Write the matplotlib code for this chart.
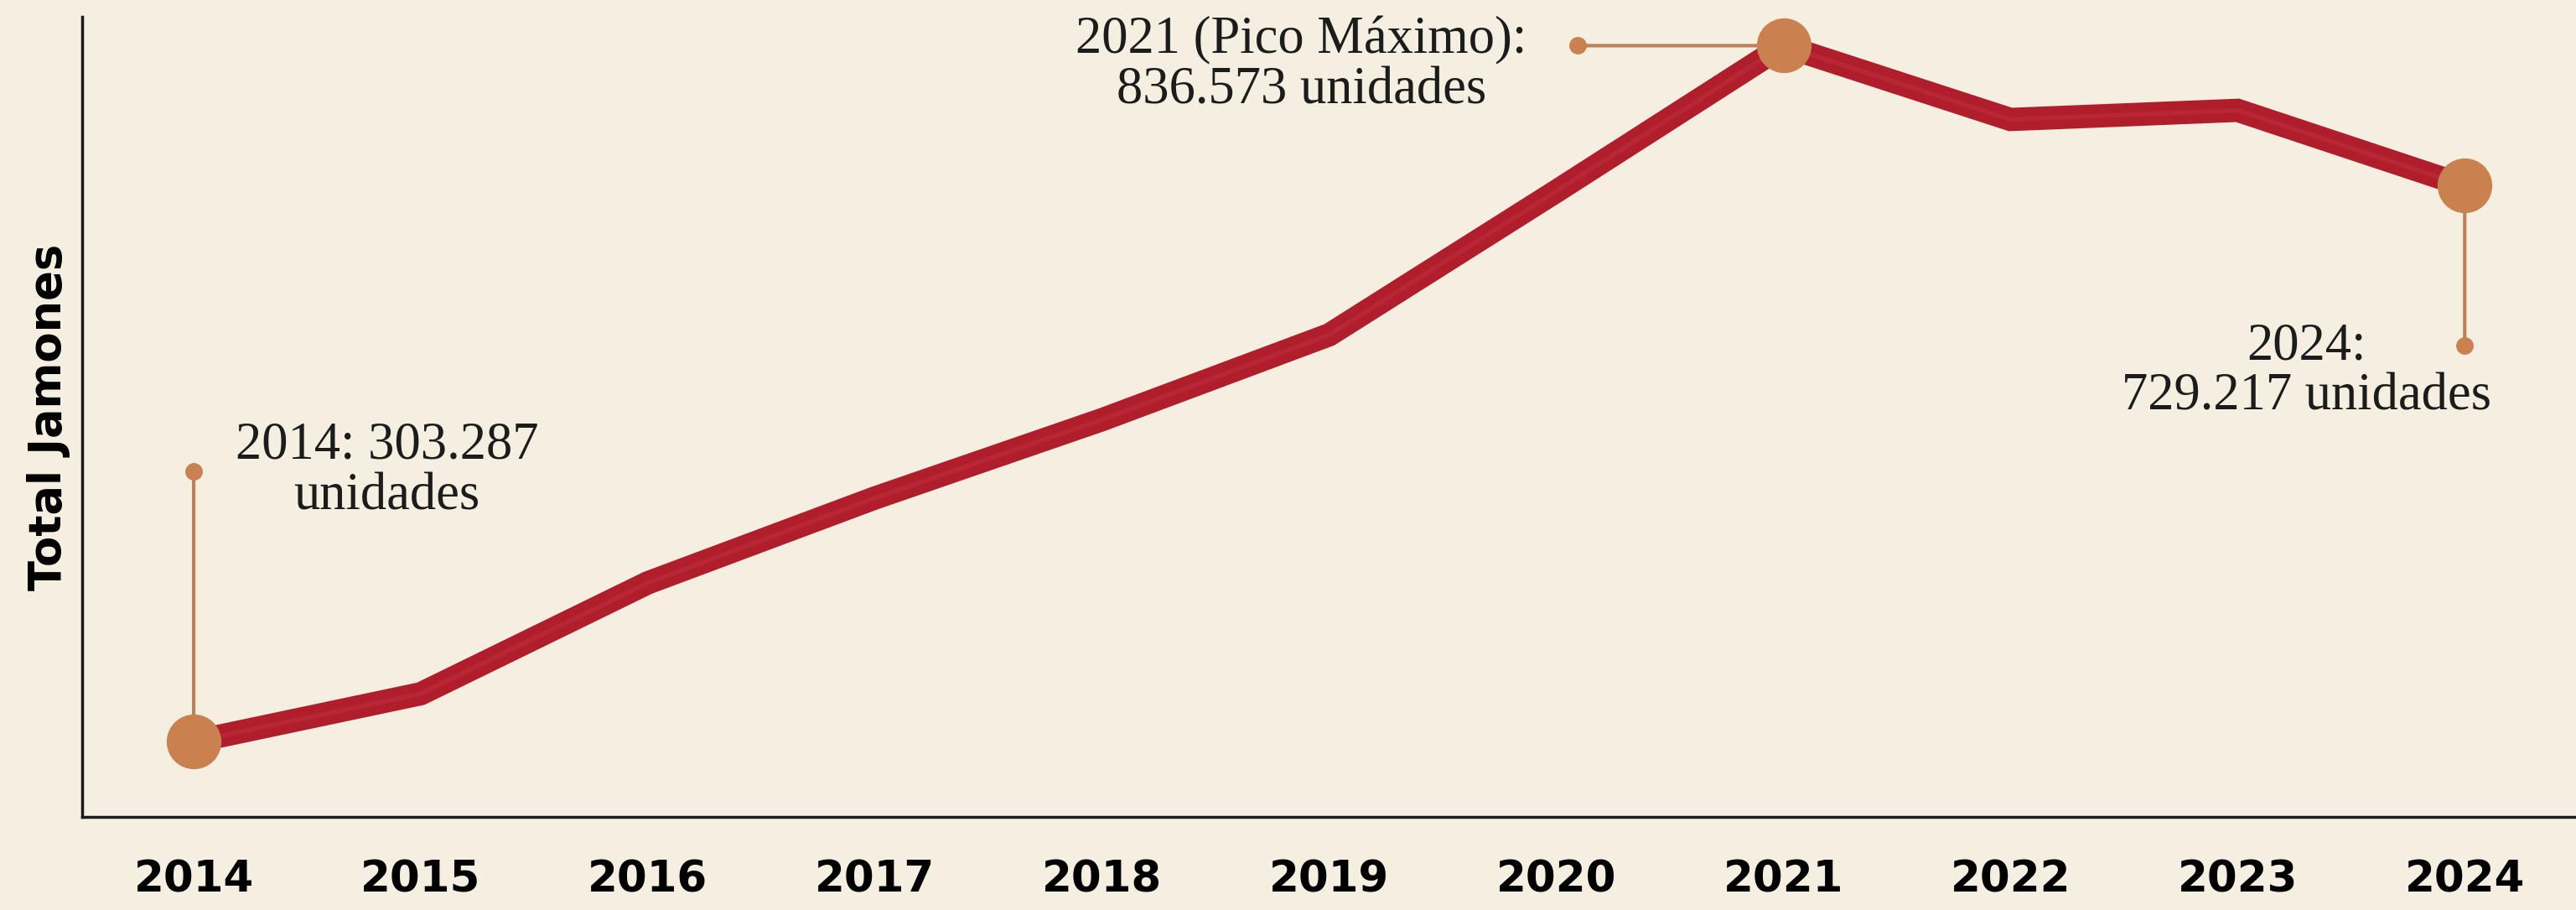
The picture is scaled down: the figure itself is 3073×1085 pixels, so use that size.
import matplotlib
matplotlib.use("Agg")
import matplotlib.pyplot as plt
from matplotlib.transforms import offset_copy

# data
years = [2014, 2015, 2016, 2017, 2018, 2019, 2020, 2021, 2022, 2023, 2024]
total_jamones = [303287, 340000, 425000, 490000, 550000, 615000, 725000,
                 836573, 780000, 787000, 729217]
highlight_years = [2014, 2021, 2024]
highlight_texts = ["2014: 303.287\nunidades",
                   "2021 (Pico Máximo):\n836.573 unidades",
                   "2024:\n729.217 unidades"]

bg = "#f5efe2"
line_red = "#b01e2c"
copper = "#c98150"
stem = "#b9825c"

fig = plt.figure(figsize=(30.73, 10.85), dpi=100, facecolor=bg)
ax = fig.add_axes([0.032, 0.102, 0.968, 0.880], facecolor=bg)

ax.plot(years, total_jamones, color=line_red, lw=20, solid_joinstyle="miter",
        solid_capstyle="butt", zorder=3)
ax.plot(years, total_jamones, color="#d9525e", lw=4, alpha=0.18, zorder=4)

ax.set_xlim(2013.51, 2024.49)
ax.set_ylim(245400, 859000)


def callout(year, value, dx, dy, tx, ty, text, ha="center"):
    # connector from the point to a small dot, offsets in points
    tr = offset_copy(ax.transData, fig=fig, x=dx, y=dy, units="points")
    ax.annotate("", xy=(year, value), xytext=(dx, dy), textcoords="offset points",
                arrowprops=dict(arrowstyle="-", color=stem, lw=3,
                                shrinkA=0, shrinkB=0), zorder=2)
    ax.plot([year], [value], "o", ms=14, color=copper, transform=tr, zorder=2,
            clip_on=False)
    ax.annotate(text, xy=(year, value), xytext=(tx, ty), textcoords="offset points",
                ha=ha, va="center", fontsize=45, family="Liberation Serif",
                color="#1c1c1c", linespacing=1.05, zorder=5)


v = dict(zip(years, total_jamones))
callout(2014, v[2014], 0, 232, 166, 232, highlight_texts[0])
callout(2021, v[2021], -177, 0, -414, -17, highlight_texts[1])
callout(2024, v[2024], 0, -137, -136, -160, highlight_texts[2])

ax.plot(highlight_years, [v[y] for y in highlight_years], "o", ms=46,
        color=copper, zorder=6)

for s in ["top", "right"]:
    ax.spines[s].set_visible(False)
for s in ["left", "bottom"]:
    ax.spines[s].set_linewidth(2.5)
    ax.spines[s].set_color("#1a1a1a")

ax.set_xticks(years)
ax.set_xticklabels([str(y) for y in years], fontsize=37, fontweight="bold",
                   family="DejaVu Sans")
ax.tick_params(axis="x", length=0, pad=36)
ax.set_yticks([])
ax.set_ylabel("Total Jamones", fontsize=38, fontweight="bold",
              family="DejaVu Sans", labelpad=10)

fig.savefig("out.png", dpi=100, facecolor=bg)
